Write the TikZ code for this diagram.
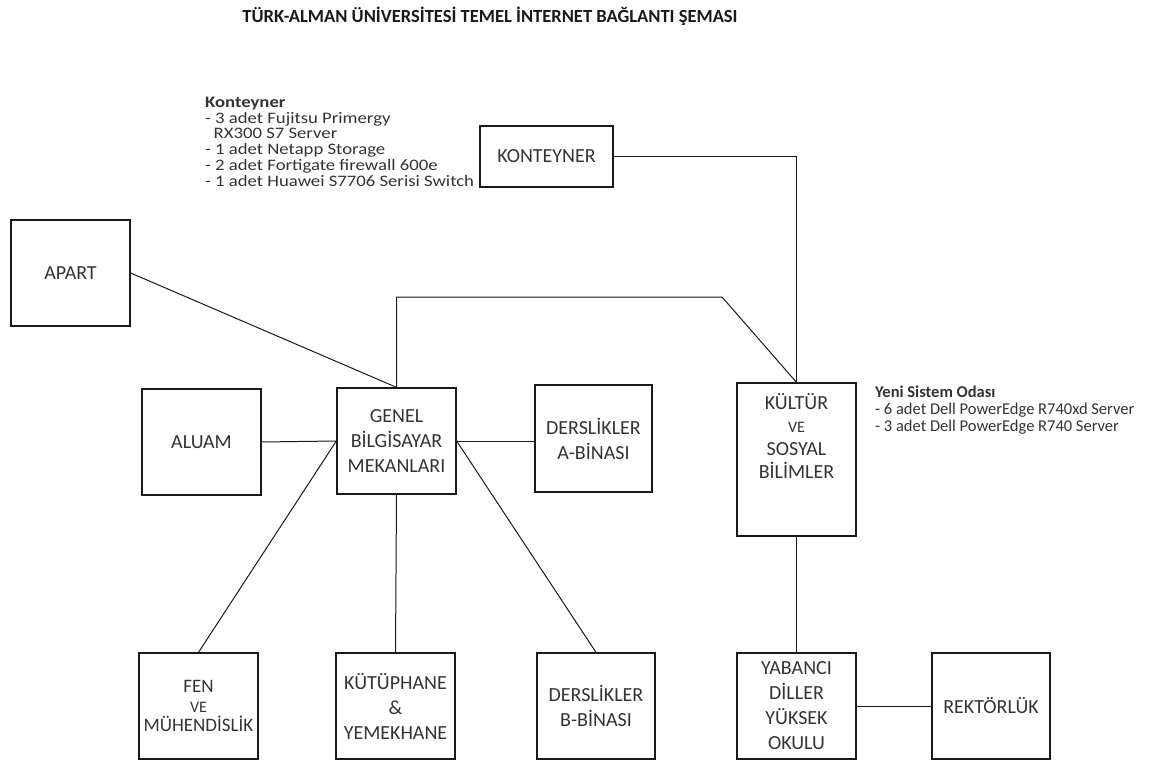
\documentclass[tikz,border=0pt]{standalone}
\usepackage{fontspec}
\setmainfont{Carlito}
\newfontfamily\genis{Carlito}[FakeStretch=1.17]
\definecolor{yazi}{HTML}{333333}
\begin{document}
\begin{tikzpicture}[x=1pt, y=-1pt,
  kutu/.style={draw=black!90, line width=1.3pt, minimum width=119, minimum height=106,
    inner sep=0pt, align=center, text=yazi, font=\fontsize{20}{25}\selectfont},
  not/.style={anchor=north west, inner sep=0pt, align=left, text=yazi,
    font=\fontsize{16.5}{17}\selectfont},
  hat/.style={line width=1pt, black!90}]

\useasboundingbox (0,0) rectangle (1168,765);

% Baslik
\node[text=black!90, font=\bfseries\fontsize{18.5}{20}\selectfont] (baslik) at (490,16)
  {TÜRK-ALMAN ÜNİVERSİTESİ TEMEL İNTERNET BAĞLANTI ŞEMASI};

% Notlar
\node[not, font=\genis\fontsize{16}{15.7}\selectfont] (notkont) at (205,97) {\textbf{Konteyner}\\- 3 adet Fujitsu Primergy\\\ \ RX300 S7 Server\\- 1 adet Netapp Storage\\- 2 adet Fortigate firewall 600e\\- 1 adet Huawei S7706 Serisi Switch};
\node[not] (notyeni) at (875,386) {\textbf{Yeni Sistem Odası}\\- 6 adet Dell PowerEdge R740xd Server\\- 3 adet Dell PowerEdge R740 Server};

% Ust kutular
\node[kutu] (apart) at (70.5,273) {APART};
\node[kutu, minimum width=133, minimum height=61] (konteyner) at (546.5,156.5) {KONTEYNER};

% Orta kutular
\node[kutu] (aluam) at (201.5,442) {ALUAM};
\node[kutu] (genel) at (396.5,441) {GENEL\\BİLGİSAYAR\\MEKANLARI};
\node[kutu, minimum width=117, minimum height=107] (dersa) at (593.5,438.5) {DERSLİKLER\\A-BİNASI};
\node[kutu, minimum height=153] (kultur) at (796.5,459.5) {};
\node[align=center, text=yazi, font=\fontsize{20}{23}\selectfont] (kulturyazi) at (796.5,436)
  {KÜLTÜR\\{\fontsize{16}{23}\selectfont VE}\\SOSYAL\\BİLİMLER};

% Alt kutular
\node[kutu, font=\fontsize{19}{19.5}\selectfont] (fen) at (198.5,706) {FEN\\{\fontsize{16}{19.5}\selectfont VE}\\MÜHENDİSLİK};
\node[kutu] (kutup) at (395.5,706) {KÜTÜPHANE\\\&\\YEMEKHANE};
\node[kutu, minimum width=118] (dersb) at (596,706) {DERSLİKLER\\B-BİNASI};
\node[kutu] (yabanci) at (796.5,706) {YABANCI\\DİLLER\\YÜKSEK\\OKULU};
\node[kutu, minimum width=118] (rektor) at (991,706) {REKTÖRLÜK};

% Baglantilar
\coordinate (kose) at (722,297);
\draw[hat] (apart.east) -- (genel.north);
\draw[hat] (genel.north) |- (kose) -- (kultur.north);
\draw[hat] (konteyner.east) -| (kultur.north);
\draw[hat] (aluam.east) -- (genel.west);
\draw[hat] (genel.east) -- (genel.east -| dersa.west);
\draw[hat] (genel.west) -- (fen.north);
\draw[hat] (genel.south) -- (kutup.north);
\draw[hat] (genel.east) -- (dersb.north);
\draw[hat] (kultur.south) -- (yabanci.north);
\draw[hat] (yabanci.east) -- (rektor.west);

\end{tikzpicture}
\end{document}
